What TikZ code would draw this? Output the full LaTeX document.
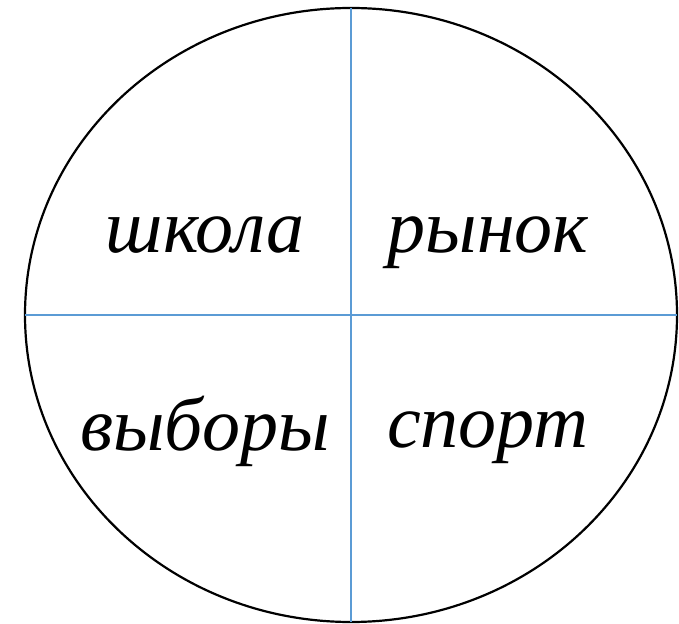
\documentclass[tikz,border=0pt]{standalone}
\usepackage{fontspec}
\setmainfont{Liberation Serif}
\usepackage{xcolor}
\usetikzlibrary{shapes.geometric, positioning}
\definecolor{divblue}{RGB}{91,155,213}
\tikzstyle{oval}    = [ellipse, draw=black, line width=1.1pt, inner sep=0pt,
                       outer sep=0pt, minimum width=326pt, minimum height=307pt]
\tikzstyle{divider} = [draw=divblue, line width=0.8pt]
\tikzstyle{word}    = [anchor=base, inner sep=0pt,
                       font=\fontsize{38}{44}\selectfont\itshape]

\begin{document}
\begin{tikzpicture}[x=0.5pt, y=-0.5pt]
  \useasboundingbox (0,0) rectangle (679,624);
  \node[oval] (circ) at (351,315) {};

  \node[word] (school)   at (205,253) {школа};
  \node[word] (market)   at (488,253) {рынок};
  \node[word] (vote)     at (205,451) {выборы};
  \node[word] (sport)    at (488,448) {спорт};

  \draw[divider] (circ.north) -- (circ.south);
  \draw[divider] (circ.west)  -- (circ.east);
\end{tikzpicture}
\end{document}
